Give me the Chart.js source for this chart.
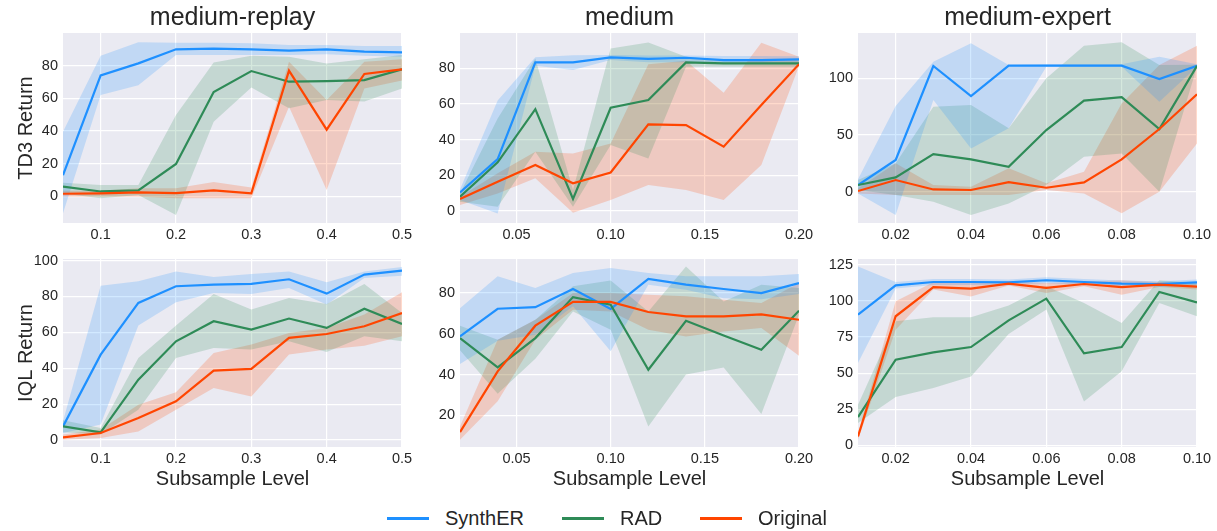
<!DOCTYPE html>
<html><head><meta charset="utf-8">
<script src="https://cdn.jsdelivr.net/npm/chart.js@4/dist/chart.umd.min.js"></script>
<style>
html,body{margin:0;padding:0;background:#fff;overflow:hidden;width:1217px;height:531px;position:relative;font-family:"Liberation Sans",Arial,sans-serif;}
canvas{position:absolute;}
.lg{position:absolute;top:505px;height:26px;display:flex;align-items:center;font-size:20px;color:#262626;}
.lg i{display:inline-block;width:42px;height:3px;margin-right:16px;}
</style></head><body>
<canvas id="c0"></canvas><canvas id="c1"></canvas><canvas id="c2"></canvas>
<canvas id="c3"></canvas><canvas id="c4"></canvas><canvas id="c5"></canvas>
<div class="lg" style="left:387px"><i style="background:#1E90FF"></i>SynthER</div>
<div class="lg" style="left:562px"><i style="background:#2E8B57"></i>RAD</div>
<div class="lg" style="left:700px"><i style="background:#FF4500"></i>Original</div>
<script>
// ---------------- data ----------------
const methods = ['SynthER', 'RAD', 'Original'];
const xReplay = [0.05, 0.10, 0.15, 0.20, 0.25, 0.30, 0.35, 0.40, 0.45, 0.50];
const xMedium = [0.02, 0.04, 0.06, 0.08, 0.10, 0.12, 0.14, 0.16, 0.18, 0.20];
const xExpert = [0.01, 0.02, 0.03, 0.04, 0.05, 0.06, 0.07, 0.08, 0.09, 0.10];

const xTicksReplay = [0.1, 0.2, 0.3, 0.4, 0.5];
const xLabelsReplay = ['0.1', '0.2', '0.3', '0.4', '0.5'];
const xTicksMedium = [0.05, 0.10, 0.15, 0.20];
const xLabelsMedium = ['0.05', '0.10', '0.15', '0.20'];
const xTicksExpert = [0.02, 0.04, 0.06, 0.08, 0.10];
const xLabelsExpert = ['0.02', '0.04', '0.06', '0.08', '0.10'];

const yTicksTd3Replay = [0, 20, 40, 60, 80];
const yTicksTd3Medium = [0, 20, 40, 60, 80];
const yTicksTd3Expert = [0, 50, 100];
const yTicksIqlReplay = [0, 20, 40, 60, 80, 100];
const yTicksIqlMedium = [20, 40, 60, 80];
const yTicksIqlExpert = [0, 25, 50, 75, 100, 125];

// TD3 / medium-replay
const td3ReplaySynthER     = [13, 74, 81.4, 90, 90.4, 90, 89.2, 90, 88.6, 88.2];
const td3ReplaySynthERLo   = [-10.4, 62, 68, 86.5, 86.5, 86.5, 86.5, 87, 86, 85.5];
const td3ReplaySynthERHi   = [39.6, 86, 94.3, 94, 94, 93.7, 92.6, 92.6, 92, 92];
const td3ReplayRAD         = [6, 3, 3.7, 19.8, 63.9, 76.7, 70.2, 70.6, 71.2, 77.8];
const td3ReplayRADLo       = [1.8, -1.2, 0.8, -11.4, 45.7, 66.7, 54, 59, 58, 66];
const td3ReplayRADHi       = [8.4, 7, 7, 49.8, 82, 86, 85.5, 81.4, 84, 86.5];
const td3ReplayOriginal    = [1.6, 1.8, 2.4, 2, 3.7, 1.8, 77, 40.8, 74.9, 77.8];
const td3ReplayOriginalLo  = [-0.2, -0.2, -0.2, -1.2, -1.2, -1.2, 54.9, 3.9, 66, 71];
const td3ReplayOriginalHi  = [3.5, 3.5, 4.9, 4.9, 8.8, 5.5, 82.4, 59, 82.4, 84];

// TD3 / medium
const td3MediumSynthER     = [10.3, 29, 83.4, 83.4, 86.2, 85.4, 86, 84.7, 84.7, 85.1];
const td3MediumSynthERLo   = [6, -1.5, 81.5, 79.1, 84.7, 83.5, 83.5, 83, 83, 83.3];
const td3MediumSynthERHi   = [12, 62, 86.2, 87.4, 87.5, 87.2, 87.2, 87, 87, 86.8];
const td3MediumRAD         = [7.9, 27.2, 57.1, 6.6, 57.9, 62.2, 83.4, 82.8, 82.8, 82.8];
const td3MediumRADLo       = [5, 2.2, 33.2, 2.2, 36.9, 29.4, 80.9, 80.9, 80.9, 80.9];
const td3MediumRADHi       = [9.7, 51.9, 85.6, 11.6, 91.2, 94.6, 86.6, 84.7, 84.7, 84.7];
const td3MediumOriginal    = [6.6, 16.3, 25.7, 15.4, 21.5, 48.5, 48.1, 36, 59.4, 82.4];
const td3MediumOriginalLo  = [3.2, 9.7, 18.2, -1.1, 6, 14.4, 11.6, 6, 25.7, 81.3];
const td3MediumOriginalHi  = [7.9, 21, 33.2, 32.2, 37.8, 82.4, 84.3, 66.3, 94.4, 86.6];

// TD3 / medium-expert
const td3ExpertSynthER     = [5.9, 28, 110.9, 84.4, 111.2, 111.2, 111.2, 111.2, 99.4, 111];
const td3ExpertSynthERLo   = [-1.5, -20.6, 80.9, 38.2, 55.9, 110.3, 110.3, 110.3, 79.4, 110.3];
const td3ExpertSynthERHi   = [11, 75.6, 114.7, 130.9, 111.8, 112.4, 112.4, 112.4, 119, 112.4];
const td3ExpertRAD         = [5.9, 12.6, 33.2, 28.5, 22, 54.4, 80.3, 83.5, 55.3, 111];
const td3ExpertRADLo       = [1.5, -2.9, -8.8, -20.6, -10.3, 5.9, 30.9, 33.8, 0, 110.3];
const td3ExpertRADHi       = [10.3, 25, 75, 76.5, 55.9, 100, 128.8, 131.8, 111.8, 112];
const td3ExpertOriginal    = [0.6, 10.3, 2, 1.5, 8.5, 3.5, 8.2, 28.5, 55.3, 85.9];
const td3ExpertOriginalLo  = [-1.5, -2.9, -2.9, -2.9, -2.9, 1.5, -1.5, -19.1, 0, 42.6];
const td3ExpertOriginalHi  = [2.9, 25, 5.9, 4.4, 20.6, 7.4, 17.6, 77.9, 111.8, 128.8];

// IQL / medium-replay
const iqlReplaySynthER     = [7.6, 47.6, 76.4, 85.7, 86.6, 87, 89.6, 81.6, 92.2, 94.4];
const iqlReplaySynthERLo   = [3.9, 8.6, 63.8, 76.8, 82, 81.4, 84.8, 75.5, 90.3, 91.6];
const iqlReplaySynthERHi   = [10.4, 86, 88.5, 94, 90.9, 92.6, 94, 87.9, 94, 96.5];
const iqlReplayRAD         = [7.6, 4.3, 33.6, 55, 66.2, 61.5, 67.7, 62.5, 73.2, 64.7];
const iqlReplayRADLo       = [4.3, 3, 16.9, 45.7, 51.3, 50.4, 55, 49, 57.8, 55];
const iqlReplayRADHi       = [11, 6.7, 45.7, 63.8, 81.4, 72.7, 79.2, 75.8, 87, 70.8];
const iqlReplayOriginal    = [1.5, 3.9, 12.3, 21.6, 38.7, 39.6, 56.9, 59.1, 63.4, 70.8];
const iqlReplayOriginalLo  = [0.2, 1.1, 4.8, 16.9, 29, 24.3, 47.6, 50.4, 52.6, 57.8];
const iqlReplayOriginalHi  = [3, 5.8, 19.7, 26.6, 48.5, 53.2, 59.7, 62.5, 69.9, 82.3];

// IQL / medium
const iqlMediumSynthER     = [58.7, 72.3, 73.1, 82, 72.2, 86.9, 84.1, 82, 80, 84.9];
const iqlMediumSynthERLo   = [45.2, 56.6, 59.6, 73.5, 51.4, 84.1, 81.6, 77.5, 77, 79.5];
const iqlMediumSynthERHi   = [72.6, 88.2, 82.5, 89.8, 92.3, 89.8, 88.2, 88.2, 88.2, 89.3];
const iqlMediumRAD         = [57.9, 43.5, 57.9, 78, 74.3, 42.4, 66.4, 59.2, 52.2, 71.3];
const iqlMediumRADLo       = [52, 30.6, 47.8, 71, 62, 14.6, 40, 43.5, 20.7, 69.4];
const iqlMediumRADHi       = [64, 57.1, 66.9, 83.3, 86.2, 71, 93, 75.9, 84.1, 82.5];
const iqlMediumOriginal    = [11.8, 41.6, 64, 75.7, 75.7, 70.7, 68.6, 68.6, 69.5, 66.9];
const iqlMediumOriginalLo  = [8, 26.9, 57.1, 71.8, 71, 62, 58.7, 61.2, 62.8, 49.3];
const iqlMediumOriginalHi  = [14.6, 57.1, 66.9, 80, 80, 79.2, 78.4, 76.7, 75.1, 84.9];

// IQL / medium-expert
const iqlExpertSynthER     = [90.4, 110.7, 113, 113, 112.8, 114.2, 113, 111.9, 111.6, 112.8];
const iqlExpertSynthERLo   = [57, 108.5, 111, 111, 110.8, 112.2, 111, 110, 109.6, 110.8];
const iqlExpertSynthERHi   = [123.8, 113, 115, 115, 114.8, 116.2, 115, 114, 113.6, 114.8];
const iqlExpertRAD         = [19.6, 59.3, 64.3, 68, 86.5, 101.5, 63.7, 68, 106.1, 98.9];
const iqlExpertRADLo       = [15.5, 33.4, 39.7, 47.7, 77, 93.9, 30.4, 51.2, 98.5, 89.3];
const iqlExpertRADHi       = [28.1, 85.8, 88.6, 88.6, 96.7, 110, 98.4, 84.6, 114.2, 112.4];
const iqlExpertOriginal    = [6.2, 89.3, 109.5, 108.4, 111.9, 108.9, 111.6, 109.5, 111.2, 109.8];
const iqlExpertOriginalLo  = [3.9, 80, 107.8, 103, 110.5, 105.4, 110, 104.2, 109.5, 107.8];
const iqlExpertOriginalHi  = [8.5, 99.6, 112.8, 112.8, 113.5, 112.3, 113.2, 114.2, 113, 112];

// ---------------- styling / layout ----------------
const COLORS = ['#1E90FF', '#2E8B57', '#FF4500'];
const BANDS = ['rgba(30,144,255,0.2)', 'rgba(46,139,87,0.2)', 'rgba(255,69,0,0.2)'];
const FONT = '"Liberation Sans", Arial, sans-serif';
const TXT = '#262626';

const panels = [
  {id:'c0', title:'medium-replay', ylabel:'TD3 Return', xs:xReplay, xt:xTicksReplay, xl:xLabelsReplay, yt:yTicksTd3Replay, xmin:0.05, xmax:0.5, ymin:-16.3, ymax:100,
   series:[[td3ReplaySynthER,td3ReplaySynthERLo,td3ReplaySynthERHi],[td3ReplayRAD,td3ReplayRADLo,td3ReplayRADHi],[td3ReplayOriginal,td3ReplayOriginalLo,td3ReplayOriginalHi]]},
  {id:'c1', title:'medium', ylabel:null, xs:xMedium, xt:xTicksMedium, xl:xLabelsMedium, yt:yTicksTd3Medium, xmin:0.02, xmax:0.2, ymin:-6.9, ymax:99.9,
   series:[[td3MediumSynthER,td3MediumSynthERLo,td3MediumSynthERHi],[td3MediumRAD,td3MediumRADLo,td3MediumRADHi],[td3MediumOriginal,td3MediumOriginalLo,td3MediumOriginalHi]]},
  {id:'c2', title:'medium-expert', ylabel:null, xs:xExpert, xt:xTicksExpert, xl:xLabelsExpert, yt:yTicksTd3Expert, xmin:0.01, xmax:0.1, ymin:-27.6, ymax:140,
   series:[[td3ExpertSynthER,td3ExpertSynthERLo,td3ExpertSynthERHi],[td3ExpertRAD,td3ExpertRADLo,td3ExpertRADHi],[td3ExpertOriginal,td3ExpertOriginalLo,td3ExpertOriginalHi]]},
  {id:'c3', title:null, ylabel:'IQL Return', xs:xReplay, xt:xTicksReplay, xl:xLabelsReplay, yt:yTicksIqlReplay, xmin:0.05, xmax:0.5, ymin:-3.9, ymax:100.9,
   series:[[iqlReplaySynthER,iqlReplaySynthERLo,iqlReplaySynthERHi],[iqlReplayRAD,iqlReplayRADLo,iqlReplayRADHi],[iqlReplayOriginal,iqlReplayOriginalLo,iqlReplayOriginalHi]]},
  {id:'c4', title:null, ylabel:null, xs:xMedium, xt:xTicksMedium, xl:xLabelsMedium, yt:yTicksIqlMedium, xmin:0.02, xmax:0.2, ymin:4.5, ymax:96.7,
   series:[[iqlMediumSynthER,iqlMediumSynthERLo,iqlMediumSynthERHi],[iqlMediumRAD,iqlMediumRADLo,iqlMediumRADHi],[iqlMediumOriginal,iqlMediumOriginalLo,iqlMediumOriginalHi]]},
  {id:'c5', title:null, ylabel:null, xs:xExpert, xt:xTicksExpert, xl:xLabelsExpert, yt:yTicksIqlExpert, xmin:0.01, xmax:0.1, ymin:-1.1, ymax:128.9,
   series:[[iqlExpertSynthER,iqlExpertSynthERLo,iqlExpertSynthERHi],[iqlExpertRAD,iqlExpertRADLo,iqlExpertRADHi],[iqlExpertOriginal,iqlExpertOriginalLo,iqlExpertOriginalHi]]}
];

// geometry: [canvasLeft, yAxisWidth, plotWidth, rightPad]
const cols = [[0, 63, 339, 22], [410, 50, 339, 22], [808, 50, 339, 20]];
const rows = [{top:0, padTop:0, plotH:190, xH:25}, {top:249, padTop:10, plotH:188, xH:50}];

const bgPlugin = {
  id: 'plotbg',
  beforeDraw(chart) {
    const {ctx, chartArea:a} = chart;
    ctx.save(); ctx.fillStyle = '#EAEAF2';
    ctx.fillRect(a.left, a.top, a.right - a.left, a.bottom - a.top);
    ctx.restore();
  }
};

panels.forEach((p, idx) => {
  const col = cols[idx % 3], row = rows[Math.floor(idx / 3)];
  const titleH = p.title ? 33 : 0;
  const W = col[1] + col[2] + col[3];
  const H = row.padTop + titleH + row.plotH + row.xH;
  const cv = document.getElementById(p.id);
  cv.width = W; cv.height = H;
  cv.style.left = col[0] + 'px'; cv.style.top = row.top + 'px';
  cv.style.width = W + 'px'; cv.style.height = H + 'px';

  const pts = arr => p.xs.map((x, i) => ({x, y: arr[i]}));
  const datasets = [];
  p.series.forEach((s, m) => {
    datasets.push({label: methods[m] + ' upper', data: pts(s[2]), borderColor: 'rgba(0,0,0,0)', borderWidth: 0,
      backgroundColor: BANDS[m], fill: '+1', pointRadius: 0, tension: 0, order: 20 + m});
    datasets.push({label: methods[m] + ' lower', data: pts(s[1]), borderColor: 'rgba(0,0,0,0)', borderWidth: 0,
      fill: false, pointRadius: 0, tension: 0, order: 20 + m});
  });
  p.series.forEach((s, m) => {
    datasets.push({label: methods[m], data: pts(s[0]), borderColor: COLORS[m], borderWidth: 2.2,
      fill: false, pointRadius: 0, tension: 0, order: 3 - m});
  });

  const isBottom = idx >= 3;
  new Chart(cv, {
    type: 'line',
    data: {datasets},
    plugins: [bgPlugin],
    options: {
      responsive: false, animation: false, devicePixelRatio: 1,
      layout: {padding: {left: 0, right: col[3], top: row.padTop, bottom: 0}},
      plugins: {
        legend: {display: false}, tooltip: {enabled: false},
        filler: {drawTime: 'beforeDatasetsDraw'},
        title: {display: !!p.title, text: p.title || '', fullSize: false, color: TXT,
          font: {family: FONT, size: 25, weight: 'normal'}, padding: {top: 3, bottom: 0}}
      },
      scales: {
        x: {
          type: 'linear', min: p.xmin, max: p.xmax,
          afterBuildTicks: s => { s.ticks = p.xt.map(v => ({value: v})); },
          afterFit: s => { s.height = row.xH; s.paddingLeft = 0; s.paddingRight = 0; },
          ticks: {callback: (v, i) => p.xl[i], color: TXT, font: {family: FONT, size: 14.5}, padding: 3, maxRotation: 0, autoSkip: false},
          grid: {color: '#FFFFFF', lineWidth: 1.2, drawTicks: false},
          border: {display: false},
          title: {display: isBottom, text: 'Subsample Level', color: TXT, font: {family: FONT, size: 20}, padding: {top: 0, bottom: 6}}
        },
        y: {
          type: 'linear', min: p.ymin, max: p.ymax,
          afterBuildTicks: s => { s.ticks = p.yt.map(v => ({value: v})); },
          afterFit: s => { s.width = col[1]; s.paddingTop = 0; s.paddingBottom = 0; },
          ticks: {callback: v => String(v), color: TXT, font: {family: FONT, size: 14.5}, padding: 5, autoSkip: false},
          grid: {color: '#FFFFFF', lineWidth: 1.2, drawTicks: false},
          border: {display: false},
          title: {display: !!p.ylabel, text: p.ylabel || '', color: TXT, font: {family: FONT, size: 20}, padding: {top: 14, bottom: 0}}
        }
      }
    }
  });
});
</script>
</body></html>
